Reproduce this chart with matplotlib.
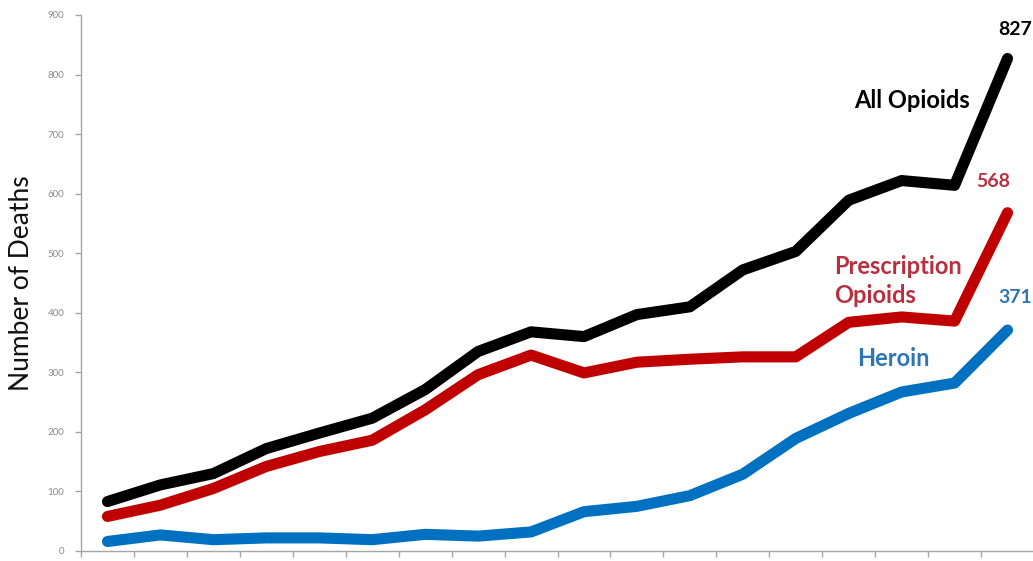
import matplotlib
matplotlib.use("Agg")
import matplotlib.pyplot as plt
import numpy as np

# Data (18 yearly points)
all_opioids = [83, 111, 130, 172, 198, 223, 271, 335, 368, 360, 397, 410, 472, 503, 589, 622, 614, 827]
prescription = [58, 77, 105, 142, 167, 186, 237, 296, 329, 299, 317, 322, 326, 326, 384, 393, 386, 568]
heroin = [16, 27, 19, 22, 22, 19, 28, 25, 32, 66, 75, 93, 129, 189, 231, 267, 282, 371]
yticks = [0, 100, 200, 300, 400, 500, 600, 700, 800, 900]

plt.rcParams['font.family'] = ['Lato', 'DejaVu Sans']

W, H = 1033, 561
fig = plt.figure(figsize=(W / 100, H / 100), dpi=100)
ax = fig.add_axes([81 / W, 10 / H, (1034 - 81) / W, 536 / H])

x = np.arange(len(all_opioids))
black = "#000000"
red_line = "#c00000"
blue_line = "#0070c0"
red_text = "#b8303f"
blue_text = "#2e75b6"

lw = 8
ax.plot(x, all_opioids, color=black, lw=lw, solid_capstyle='round', solid_joinstyle='round', zorder=3)
ax.plot(x, prescription, color=red_line, lw=lw, solid_capstyle='round', solid_joinstyle='round', zorder=3)
ax.plot(x, heroin, color=blue_line, lw=lw, solid_capstyle='round', solid_joinstyle='round', zorder=3)

ax.set_xlim(-0.5, len(x) - 0.5)
ax.set_ylim(0, 900)
ax.set_yticks(yticks)
ax.set_yticklabels([str(v) for v in yticks], fontsize=7, color="#8a8a8a")
ax.set_xticks(np.arange(-0.5, len(x) - 0.5, 1.0))
ax.set_xticklabels([])

for s in ['top', 'right']:
    ax.spines[s].set_visible(False)
for s in ['left', 'bottom']:
    ax.spines[s].set_color("#a6a6a6")
    ax.spines[s].set_linewidth(1.0)
ax.tick_params(axis='both', direction='out', length=4, color="#a6a6a6", width=1)
ax.tick_params(axis='y', pad=8)

ax.set_ylabel("Number of Deaths", fontsize=19, color="#111111", labelpad=10)

last = len(x) - 1
ax.text(last + 0.15, all_opioids[-1] + 48, f"{all_opioids[-1]}", color=black,
        fontsize=14, fontweight='bold', ha='center', va='center')
ax.text(last - 0.27, prescription[-1] + 53, f"{prescription[-1]}", color=red_text,
        fontsize=14, fontweight='bold', ha='center', va='center')
ax.text(last + 0.15, heroin[-1] + 55, f"{heroin[-1]}", color=blue_text,
        fontsize=14, fontweight='bold', ha='center', va='center')

ax.text(15.2, 757, "All Opioids", color=black, fontsize=17, fontweight='bold',
        ha='center', va='center')
ax.text(13.72, 453, "Prescription\nOpioids", color=red_text, fontsize=17,
        fontweight='bold', ha='left', va='center', linespacing=1.3)
ax.text(14.84, 324, "Heroin", color=blue_text, fontsize=17, fontweight='bold',
        ha='center', va='center')

fig.savefig("out.png", dpi=100)
